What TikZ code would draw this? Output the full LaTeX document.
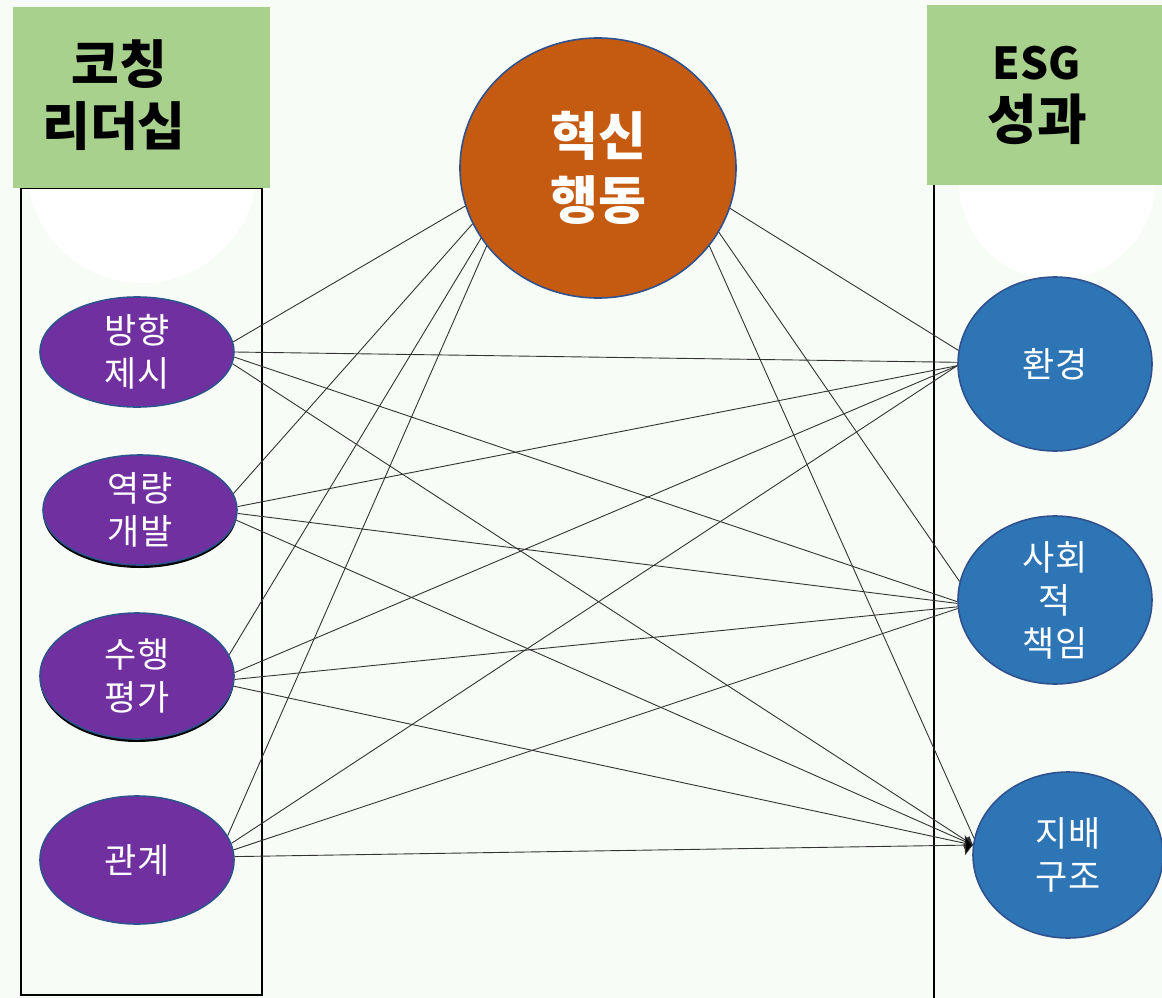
\documentclass[tikz,border=0pt]{standalone}
\usepackage{fontspec}
\setmainfont{Noto Sans CJK KR}
\usetikzlibrary{shapes.geometric,arrows.meta}
\definecolor{bg}{HTML}{F8FCF7}
\definecolor{boxgreen}{HTML}{A9D18E}
\definecolor{purp}{HTML}{7030A0}
\definecolor{blu}{HTML}{2E75B6}
\definecolor{orng}{HTML}{C55A11}
\definecolor{rim}{HTML}{2F528F}
\definecolor{linegray}{HTML}{333333}
\tikzset{
  oval/.style={ellipse, draw=rim, line width=1.6pt, inner sep=0pt},
  lnode/.style={oval, fill=purp},
  rnode/.style={oval, fill=blu},
  wlbl/.style={text=white, align=center, font=\fontsize{35}{43}\selectfont},
  hdr/.style={text=black, align=center, font=\bfseries\fontsize{52}{62}\selectfont},
  edge/.style={draw=linegray, line width=0.9pt},
  gedge/.style={edge, -{Triangle[length=8pt,width=11pt,fill=black]}},
  bigtip/.style={edge, -{Triangle[length=8pt,width=20pt,fill=black]}},
  frame/.style={draw=black, line width=2pt},
}
\begin{document}
\begin{tikzpicture}[x=1pt,y=-1pt]
\fill[bg] (0,0) rectangle (1162,998);
\useasboundingbox (0,0) rectangle (1162,998);
% white circles behind headers
\fill[white] (142,168) circle[radius=115];
\fill[white] (1057,182) circle[radius=98];
% frames
\draw[frame] (21,188) rectangle (262,995);
\draw[frame] (934,185) -- (934,998);
% header boxes
\fill[boxgreen] (13,7) rectangle (270,188);
\fill[boxgreen] (927,5) rectangle (1162,185);
\node[hdr] (hL) at (114,95) {\hspace*{10pt}코칭\\리더십};
\node[hdr, font=\bfseries\fontsize{54}{60}\selectfont] (hR) at (1037,95) {{\fontsize{44}{60}\selectfont ESG}\\성과};
% shadows
\fill[black] (140,513) ellipse[x radius=97, y radius=55];
\fill[black] (137,679) ellipse[x radius=97, y radius=63];
% left nodes
\node[lnode, minimum width=194, minimum height=110,
  label={[wlbl]center:방향\\제시}] (A) at (137,352) {};
\node[lnode, minimum width=194, minimum height=110,
  label={[wlbl]center:역량\\개발}] (B) at (140,510) {};
\node[lnode, minimum width=194, minimum height=126,
  label={[wlbl]center:수행\\평가}] (C) at (137,676) {};
\node[lnode, minimum width=194, minimum height=128,
  label={[wlbl]center:관계}] (D) at (137,860) {};
% center node
\node[oval, fill=orng, minimum width=276, minimum height=260,
  label={[hdr, text=white, font=\bfseries\fontsize{52}{64}\selectfont]center:혁신\\행동}] (I) at (598,168) {};
% right nodes
\node[rnode, minimum width=194, minimum height=174,
  label={[wlbl]center:환경}] (E) at (1055,364) {};
\node[rnode, minimum width=194, minimum height=168,
  label={[wlbl]center:사회\\적\\책임}] (S) at (1055,600) {};
\node[rnode, minimum width=190, minimum height=166,
  label={[wlbl]center:지배\\구조}] (G) at (1068,855) {};
% edges to innovation
\draw[edge] (A.6) -- (I.196);
\draw[edge] (B.10) -- (I.204);
\draw[edge] (C.13) -- (I.211);
\draw[edge] (D.15) -- (I.215);
% edges to environment
\draw[edge] (A.0) -- (E.179);
\draw[edge] (B.2) -- (E.181);
\draw[edge] (C.2) -- (E.181);
\draw[edge] (D.10) -- (E.181);
\draw[edge] (I.343) -- (E.172);
% edges to social
\draw[edge] (A.357) -- (S.181);
\draw[edge] (B.358) -- (S.182);
\draw[edge] (C.358) -- (S.184);
\draw[edge] (D.6) -- (S.185);
\draw[edge] (I.332) -- (S.169);
% edges to governance
\draw[gedge] (A.353) -- (G.174);
\draw[gedge] (B.354) -- (G.174);
\draw[gedge] (C.354) -- (G.174);
\draw[bigtip] (D.2) -- (G.174);
\draw[edge] (I.325) -- (G.170);
\end{tikzpicture}
\end{document}
